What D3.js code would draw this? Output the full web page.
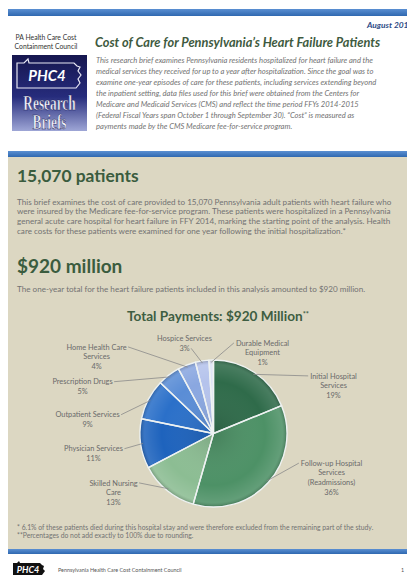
<!DOCTYPE html>
<html>
<head>
<meta charset="utf-8">
<script src="https://cdn.jsdelivr.net/npm/d3@7"></script>
<style>
  html, body { margin: 0; padding: 0; background: #fff; }
  svg { display: block; }
  text { font-family: Lato, "Open Sans", sans-serif; }
</style>
</head>
<body>
<svg id="page"></svg>
<script>
// ---- chart data ----
let categories = [
    "Initial Hospital\nServices",
    "Follow-up Hospital\nServices\n(Readmissions)",
    "Skilled Nursing\nCare",
    "Physician Services",
    "Outpatient Services",
    "Prescription Drugs",
    "Home Health Care\nServices",
    "Hospice Services",
    "Durable Medical\nEquipment"
];
let percents = [19, 36, 13, 11, 9, 5, 4, 3, 1];
let colours = ["#2f6b4a", "#4d9166", "#8cbd93", "#1e63bd", "#2b70c9", "#5a8dd6", "#8aa7e0", "#b5c3ec", "#dde3f5"];

// ---- page text ----
let introLines = [
    "This research brief examines Pennsylvania residents hospitalized for heart failure and the",
    "medical services they received for up to a year after hospitalization. Since the goal was to",
    "examine one-year episodes of care for these patients, including services extending beyond",
    "the inpatient setting, data files used for this brief were obtained from the Centers for",
    "Medicare and Medicaid Services (CMS) and reflect the time period FFYs 2014-2015",
    "(Federal Fiscal Years span October 1 through September 30). \u201cCost\u201d is measured as",
    "payments made by the CMS Medicare fee-for-service program."
];
let patientLines = [
    "This brief examines the cost of care provided to 15,070 Pennsylvania adult patients with heart failure who",
    "were insured by the Medicare fee-for-service program. These patients were hospitalized in a Pennsylvania",
    "general acute care hospital for heart failure in FFY 2014, marking the starting point of the analysis. Health",
    "care costs for these patients were examined for one year following the initial hospitalization.*"
];
let footnotes = [
    "* 6.1% of these patients died during this hospital stay and were therefore excluded from the remaining part of the study.",
    "**Percentages do not add exactly to 100% due to rounding."
];

let W = 407, H = 578;
let greenHead = "#3a5c3e";
let bodyGrey = "#727272";

let svg = d3.select("#page").attr("width", W).attr("height", H);
let defs = svg.append("defs");

let barGrad = defs.append("linearGradient").attr("id", "barGrad")
    .attr("x1", 0).attr("y1", 0).attr("x2", 0).attr("y2", 1);
barGrad.append("stop").attr("offset", "0%").attr("stop-color", "#5a8fd2");
barGrad.append("stop").attr("offset", "100%").attr("stop-color", "#2f68b0");

let logoGrad = defs.append("linearGradient").attr("id", "logoGrad")
    .attr("x1", 0).attr("y1", 0).attr("x2", 0).attr("y2", 1);
logoGrad.append("stop").attr("offset", "0%").attr("stop-color", "#16174f");
logoGrad.append("stop").attr("offset", "55%").attr("stop-color", "#262c7c");
logoGrad.append("stop").attr("offset", "100%").attr("stop-color", "#9ea6d6");

let shade = defs.append("radialGradient").attr("id", "shade")
    .attr("gradientUnits", "userSpaceOnUse")
    .attr("cx", 0).attr("cy", 0).attr("r", 74);
shade.append("stop").attr("offset", "0%").attr("stop-color", "#000").attr("stop-opacity", 0.12);
shade.append("stop").attr("offset", "70%").attr("stop-color", "#fff").attr("stop-opacity", 0.0);
shade.append("stop").attr("offset", "93%").attr("stop-color", "#fff").attr("stop-opacity", 0.12);
shade.append("stop").attr("offset", "100%").attr("stop-color", "#000").attr("stop-opacity", 0.25);

// ---- header ----
svg.append("rect").attr("x", 8).attr("y", 9).attr("width", W - 8).attr("height", 7).attr("fill", "url(#barGrad)");
svg.append("text").attr("x", 367).attr("y", 28)
    .style("font-size", "8.4px").style("font-weight", "bold").style("font-style", "italic")
    .attr("fill", "#2b4a86").text("August 2017");

let orgName = ["PA Health Care Cost", "Containment Council"];
orgName.forEach((t, i) => {
    svg.append("text").attr("x", 46).attr("y", 40 + i * 9).attr("text-anchor", "middle")
        .style("font-size", "6.8px").attr("fill", "#333").text(t);
});

// logo box
svg.append("rect").attr("x", 12).attr("y", 55).attr("width", 75).attr("height", 76).attr("fill", "url(#logoGrad)");
svg.append("path")
    .attr("d", "M17,63 L24,63 L28,59 L29,63 L74,63 L77,66 L80,67 L78,71 L81,75 L78,79 L80,83 L76,88 L17,88 Z")
    .attr("fill", "none").attr("stroke", "#e8e8f4").attr("stroke-width", 1.2);
svg.append("text").attr("x", 47).attr("y", 81).attr("text-anchor", "middle")
    .style("font-size", "15px").style("font-weight", "bold").style("font-style", "italic")
    .attr("fill", "#fff").text("PHC4");
["Research", "Briefs"].forEach((t, i) => {
    svg.append("text")
        .attr("transform", "translate(49.5," + (110 + i * 19) + ") scale(0.74,1.2)")
        .attr("text-anchor", "middle")
        .style("font-family", "'Liberation Serif', serif").style("font-size", "18px").style("font-weight", "bold")
        .attr("fill", "#f4f4fa").attr("stroke", "#1a1d5c").attr("stroke-width", 0.4).text(t);
});

svg.append("text").attr("x", 95).attr("y", 47)
    .style("font-size", "12.8px").style("font-weight", "bold").style("font-style", "italic")
    .attr("fill", "#3e5a40").text("Cost of Care for Pennsylvania\u2019s Heart Failure Patients");

introLines.forEach((t, i) => {
    svg.append("text").attr("x", 96).attr("y", 62.5 + i * 11)
        .style("font-size", "7.6px").style("font-style", "italic")
        .attr("fill", bodyGrey).text(t);
});

// ---- beige panel ----
svg.append("rect").attr("x", 8).attr("y", 151).attr("width", W - 8).attr("height", 6).attr("fill", "url(#barGrad)");
svg.append("rect").attr("x", 8).attr("y", 157).attr("width", W - 8).attr("height", 392).attr("fill", "#dcd7c2");
svg.append("rect").attr("x", 8).attr("y", 549).attr("width", W - 8).attr("height", 5).attr("fill", "url(#barGrad)");

svg.append("text").attr("x", 17).attr("y", 182)
    .style("font-size", "17.4px").style("font-weight", "bold")
    .attr("fill", greenHead).text("15,070 patients");
patientLines.forEach((t, i) => {
    svg.append("text").attr("x", 17).attr("y", 204.5 + i * 9.7)
        .style("font-size", "8.1px").attr("fill", bodyGrey).text(t);
});
svg.append("text").attr("x", 17).attr("y", 273)
    .style("font-size", "19px").style("font-weight", "bold")
    .attr("fill", greenHead).text("$920 million");
svg.append("text").attr("x", 17).attr("y", 291.5)
    .style("font-size", "8.1px").attr("fill", bodyGrey)
    .text("The one-year total for the heart failure patients included in this analysis amounted to $920 million.");

// ---- pie chart ----
let cx = 213.5, cy = 433.5, radius = 73.5;
let chartTitle = svg.append("text").attr("x", 218).attr("y", 321).attr("text-anchor", "middle")
    .style("font-size", "13.6px").style("font-weight", "bold").attr("fill", "#3e5e42");
chartTitle.append("tspan").text("Total Payments: $920 Million");
chartTitle.append("tspan").attr("dy", -4.5).style("font-size", "7.5px").text("**");

let pie = d3.pie().sort(null).value(d => d);
let arcs = pie(percents);
let arc = d3.arc().innerRadius(0).outerRadius(radius);
let gPie = svg.append("g").attr("transform", "translate(" + cx + "," + cy + ")");

gPie.selectAll("path.slice").data(arcs).enter().append("path")
    .attr("class", "slice")
    .attr("d", arc)
    .attr("fill", (d, i) => colours[i]);
gPie.selectAll("path.shade").data(arcs).enter().append("path")
    .attr("class", "shade")
    .attr("d", arc)
    .attr("fill", "url(#shade)")
    .attr("stroke", "#eef2f2").attr("stroke-width", 1.4).attr("stroke-linejoin", "round");

// label layout: offset of label block centre from pie centre, and which side the leader attaches to
let labelLayout = [
    { dx: 120, dy: -48, side: "R", line: "first" },
    { dx: 118, dy: 44, side: "R", line: "first" },
    { dx: -100, dy: 59, side: "L", line: "first" },
    { dx: -120, dy: 20, side: "L", line: "first" },
    { dx: -126, dy: -14, side: "L", line: "first" },
    { dx: -131, dy: -47, side: "L", line: "first" },
    { dx: -117, dy: -77, side: "L", line: "first" },
    { dx: -29, dy: -90, side: "L", line: "last" },
    { dx: 49, dy: -81, side: "R", line: "first" }
];
let lineH = 9.6;
let gLab = svg.append("g").attr("transform", "translate(" + cx + "," + cy + ")");

arcs.forEach((a, i) => {
    let lines = categories[i].split("\n").concat([percents[i] + "%"]);
    let lay = labelLayout[i];
    let top = lay.dy - (lines.length - 1) * lineH / 2;
    let txt = gLab.append("text").attr("text-anchor", "middle")
        .style("font-size", "7.4px").attr("fill", "#6a6a6a");
    let spans = lines.map((t, k) => txt.append("tspan")
        .attr("x", lay.dx).attr("y", top + k * lineH + 2.6).text(t));

    let k = lay.line === "first" ? 0 : lines.length - 1;
    let w = spans[k].node().getComputedTextLength();
    let ex = lay.side === "R" ? lay.dx - w / 2 - 2 : lay.dx + w / 2 + 1.5;
    let ey = top + k * lineH;
    let mid = (a.startAngle + a.endAngle) / 2;
    let sx = Math.sin(mid) * radius * 0.97, sy = -Math.cos(mid) * radius * 0.97;
    gLab.insert("line", "text")
        .attr("x1", sx).attr("y1", sy).attr("x2", ex).attr("y2", ey)
        .attr("stroke", "#8a8a8a").attr("stroke-width", 0.8);
});

// ---- footnotes & footer ----
footnotes.forEach((t, i) => {
    svg.append("text").attr("x", 17).attr("y", 530 + i * 8)
        .style("font-size", "6.8px").attr("fill", bodyGrey).text(t);
});

svg.append("path")
    .attr("d", "M13,563 L17,563 L19,561 L20,563 L40,563 L42,565 L44,566 L43,569 L45,571 L42,575 L13,575 Z")
    .attr("fill", "#111");
svg.append("text").attr("x", 28).attr("y", 573).attr("text-anchor", "middle")
    .style("font-size", "9px").style("font-weight", "bold").style("font-style", "italic")
    .attr("fill", "#fff").text("PHC4");
svg.append("text").attr("x", 58).attr("y", 572)
    .style("font-size", "5.4px").attr("fill", "#555").text("Pennsylvania Health Care Cost Containment Council");
svg.append("text").attr("x", 401).attr("y", 572)
    .style("font-size", "5.4px").attr("fill", "#555").text("1");
</script>
</body>
</html>
